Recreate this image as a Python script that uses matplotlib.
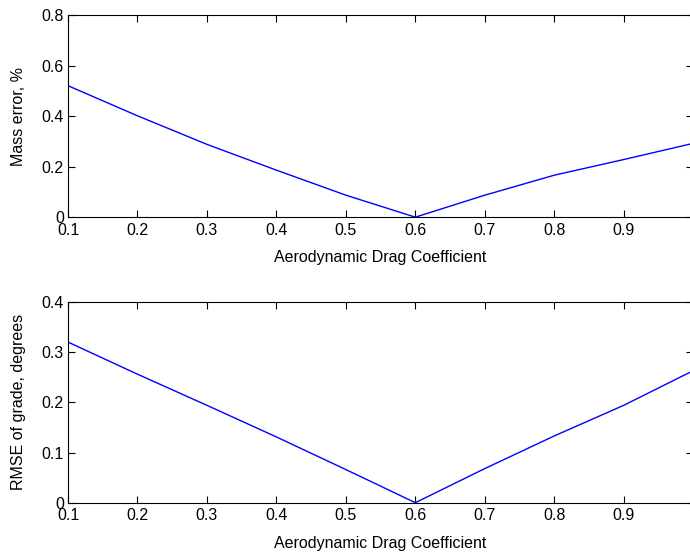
import matplotlib
matplotlib.use("Agg")
import matplotlib.pyplot as plt

plt.rcParams["font.family"] = ["Liberation Sans", "DejaVu Sans"]
plt.rcParams["font.size"] = 11.5

# drag coefficient sweep
drag_coef = [0.1, 0.2, 0.3, 0.4, 0.5, 0.6, 0.7, 0.8, 0.9, 1.0]
mass_error = [0.52, 0.401, 0.288, 0.186, 0.087, 0.0, 0.087, 0.166, 0.228, 0.292]
rmse_grade = [0.320, 0.256, 0.194, 0.131, 0.066, 0.0, 0.068, 0.133, 0.194, 0.263]

x_ticks = [0.1, 0.2, 0.3, 0.4, 0.5, 0.6, 0.7, 0.8, 0.9, 1.0]
x_tick_labels = ["0.1", "0.2", "0.3", "0.4", "0.5", "0.6", "0.7", "0.8", "0.9", "1"]
top_yticks = [0, 0.2, 0.4, 0.6, 0.8]
top_ylabels = ["0", "0.2", "0.4", "0.6", "0.8"]
bot_yticks = [0, 0.1, 0.2, 0.3, 0.4]
bot_ylabels = ["0", "0.1", "0.2", "0.3", "0.4"]

fig = plt.figure(figsize=(6.9, 5.54), dpi=100)
ax1 = fig.add_axes([0.0986, 0.608, 0.906, 0.365])
ax2 = fig.add_axes([0.0986, 0.0926, 0.906, 0.3624])


def style(ax, yticks, ylabels, ylabel):
    ax.set_xlim(0.1, 1.0)
    ax.set_ylim(yticks[0], yticks[-1])
    ax.set_xticks(x_ticks)
    ax.set_xticklabels(x_tick_labels)
    ax.set_yticks(yticks)
    ax.set_yticklabels(ylabels)
    ax.tick_params(direction="in", top=True, right=True, length=5, width=0.8, pad=3)
    ax.tick_params(axis="x", pad=4)
    for s in ax.spines.values():
        s.set_linewidth(0.8)
    # right edge of the axes falls just outside the picture
    ax.spines["right"].set_visible(False)
    ax.set_xlabel("Aerodynamic Drag Coefficient", labelpad=9)
    ax.set_ylabel(ylabel, labelpad=11)


ax1.plot(drag_coef, mass_error, color="#0000ff", linewidth=1.0)
style(ax1, top_yticks, top_ylabels, "Mass error, %")

ax2.plot(drag_coef, rmse_grade, color="#0000ff", linewidth=1.0)
style(ax2, bot_yticks, bot_ylabels, "RMSE of grade, degrees")

fig.savefig("out.png", dpi=100)
